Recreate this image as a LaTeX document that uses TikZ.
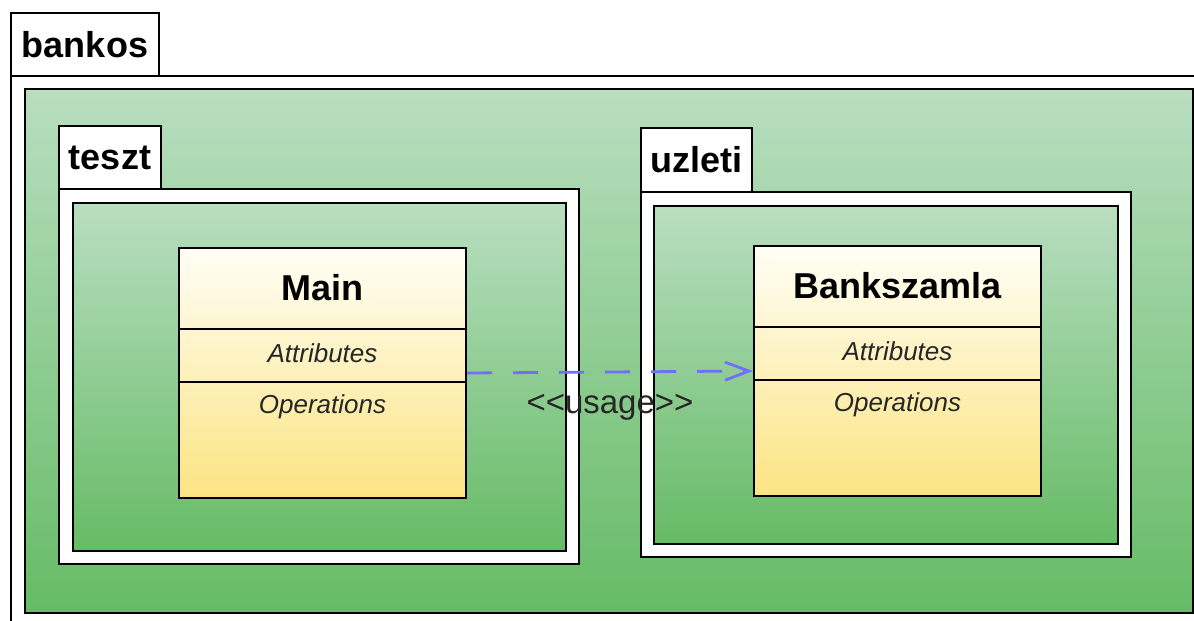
\documentclass[tikz,border=0pt]{standalone}
\usepackage{fontspec}
\setmainfont{Liberation Sans}
\setsansfont{Liberation Sans}
\usetikzlibrary{arrows.meta,calc,shadows}

\definecolor{verdeclaro}{RGB}{185,222,192}
\definecolor{verdeoscuro}{RGB}{102,187,102}
\definecolor{cremaclaro}{RGB}{255,254,246}
\definecolor{cremaoscuro}{RGB}{251,228,130}
\definecolor{azuluso}{RGB}{112,112,250}

\begin{document}
\begin{tikzpicture}[x=0.5pt,y=-0.5pt,line width=1pt]
				\tikzstyle{sombra}=[drop shadow={shadow xshift=0.7pt, shadow yshift=-0.7pt, opacity=0.35, fill=black}]
				\tikzstyle{pestana}=[draw, fill=white, anchor=north west, inner sep=0pt, font=\bfseries\fontsize{18}{20}\selectfont]
				\tikzstyle{cuerpo}=[draw, fill=white, anchor=north west, inner sep=0pt, sombra]
				\tikzstyle{verde}=[draw, anchor=north west, inner sep=0pt, top color=verdeclaro, bottom color=verdeoscuro, sombra]
				\tikzstyle{clase}=[draw, anchor=north west, inner sep=0pt, top color=cremaclaro, bottom color=cremaoscuro, minimum width=143.5pt, minimum height=125pt, sombra]
				\tikzstyle{nombre}=[font=\bfseries\fontsize{18}{20}\selectfont]
				\tikzstyle{seccion}=[font=\itshape\fontsize{13}{15}\selectfont, text=black!85]
				\tikzstyle{uso}=[draw=azuluso, line width=1.4pt, dash pattern=on 12.5pt off 10.5pt, -{Straight Barb[length=12pt,width=9pt,line width=1.4pt]}]
				\tikzstyle{etiqueta}=[font=\fontsize{16.5}{18}\selectfont, text=black!85]
				
				\clip (0,0) rectangle (1194,621);
				
				% Paquete bankos
				\node[cuerpo, minimum width=600pt, minimum height=300pt] (bankos-c) at (10,75) {};
				\node[pestana, minimum width=74pt, minimum height=31.5pt] (bankos) at (10,12) {bankos};
				\node[verde, minimum width=584pt, minimum height=262pt] (bankos-v) at (24,88) {};
				
				% Paquete teszt
				\node[cuerpo, minimum width=260pt, minimum height=187.5pt] (teszt-c) at (58,188) {};
				\node[pestana, minimum width=51pt, minimum height=31.5pt] (teszt) at (58,125) {teszt};
				\node[verde, minimum width=246.5pt, minimum height=174pt] (teszt-v) at (72,202) {};
				
				% Paquete uzleti
				\node[cuerpo, minimum width=245pt, minimum height=182.5pt] (uzleti-c) at (640,191) {};
				\node[pestana, minimum width=55.5pt, minimum height=32pt] (uzleti) at (640,127) {uzleti};
				\node[verde, minimum width=232pt, minimum height=169pt] (uzleti-v) at (653,205) {};
				
				% Clases
				\foreach \name / \x / \y in {Main/178/247, Bankszamla/753/245} {
					\node[clase] (\name) at (\x,\y) {};
					\draw ($(\name.north west)+(0,82)$) -- ($(\name.north east)+(0,82)$);
					\draw ($(\name.north west)+(0,135)$) -- ($(\name.north east)+(0,135)$);
					\node[nombre] (\name-n) at ($(\name.north)+(0,40.5)$) {\name};
					\node[seccion] (\name-a) at ($(\name.north)+(0,106)$) {Attributes};
					\node[seccion] (\name-o) at ($(\name.north)+(0,160)$) {Operations};
				}
				
				% Dependencia
				\draw[uso] (Main.east) -- node[etiqueta, midway, yshift=-17.75pt] (usage) {<{}<usage>{}>} (Bankszamla.west);
\end{tikzpicture}
\end{document}
